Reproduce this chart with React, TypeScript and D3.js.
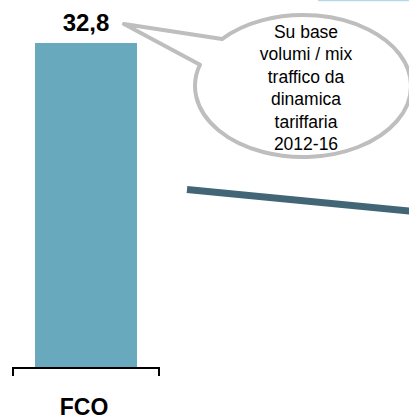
import React from "react";
import * as d3 from "d3";

const categories: string[] = ["FCO"];
const values: number[] = [32.8];
const valueLabels: string[] = ["32,8"];
const bubbleLines: string[] = ["Su base", "volumi / mix", "traffico da", "dinamica", "tariffaria", "2012-16"];

const W = 409;
const H = 419;
const FONT = "Arial, 'Liberation Sans', Helvetica, sans-serif";

export default function App() {
  const x = d3.scaleBand<string>().domain(categories).range([13, 159]).padding(0.1775);
  const y = d3.scaleLinear().domain([0, 32.8]).range([367, 43]);

  // bubble geometry
  const cx = 303, cy = 86, rx = 108, ry = 71;
  const A = [222, cy - ry * Math.sqrt(1 - ((222 - cx) / rx) ** 2)];
  const B = [200, cy - ry * Math.sqrt(1 - ((200 - cx) / rx) ** 2)];
  const tip = [124, 24];
  const bubblePath = `M${A[0]},${A[1]} A${rx},${ry} 0 1 1 ${B[0]},${B[1]} L${tip[0]},${tip[1]} Z`;

  return (
    <svg width={W} height={H} style={{ position: "absolute", left: 0, top: 0, background: "#fff" }}>
      <line x1={318} y1={0.5} x2={409} y2={0.5} stroke="#B5DAE6" strokeWidth={1.5} />
      {categories.map((c, i) => (
        <g key={c}>
          <rect x={x(c)} y={y(values[i])} width={x.bandwidth()} height={y(0) - y(values[i])} fill="#69A9BE" />
          <text x={(x(c) as number) + x.bandwidth() / 2} y={y(values[i]) - 12} textAnchor="middle"
            fontFamily={FONT} fontWeight="bold" fontSize={24} fill="#000">{valueLabels[i]}</text>
          <text x={(x(c) as number) + x.bandwidth() / 2 - 2} y={415} textAnchor="middle"
            fontFamily={FONT} fontWeight="bold" fontSize={23} fill="#000">{c}</text>
        </g>
      ))}
      <path d={`M13,376 V368 H159 V376`} fill="none" stroke="#000" strokeWidth={2} />
      <line x1={187} y1={189.5} x2={412} y2={211.3} stroke="#426676" strokeWidth={7} />
      <path d={bubblePath} fill="#fff" stroke="#BEBEBE" strokeWidth={4} strokeLinejoin="round" />
      {bubbleLines.map((t, i) => (
        <text key={i} x={306} y={38 + i * 22.4} textAnchor="middle" fontFamily={FONT} fontSize={17.5} fill="#000">{t}</text>
      ))}
    </svg>
  );
}
